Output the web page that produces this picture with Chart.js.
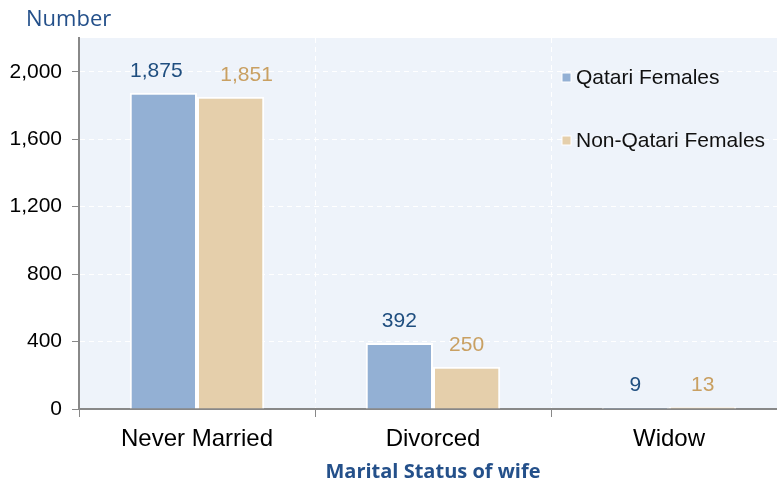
<!DOCTYPE html>
<html><head><meta charset="utf-8">
<script src="https://cdn.jsdelivr.net/npm/chart.js@4"></script>
<style>html,body{margin:0;padding:0;background:#fff;overflow:hidden}#wrap{width:777px;height:484px;overflow:hidden}canvas{display:block}</style>
</head><body><div id="wrap"><canvas id="c" width="787" height="484"></canvas></div>
<script>
const categories = ["Never Married", "Divorced", "Widow"];
const qatariFemales = [1875, 392, 9];
const nonQatariFemales = [1851, 250, 13];
const yTicks = [0, 400, 800, 1200, 1600, 2000];
const seriesNames = ["Qatari Females", "Non-Qatari Females"];
const barColors = ["#93B0D4", "#E5CFAB"];
const labelColors = ["#1F4E7F", "#C9A062"];
// small manual nudges of value labels (as in the original), [dataset][category] in px
const labelNudge = [[-7, 0, 0], [16, 0, 0]];

const bgPlugin = {
  id: 'bg',
  beforeDraw(chart) {
    const {ctx, chartArea: a} = chart;
    ctx.save();
    ctx.fillStyle = '#EEF3FA';
    ctx.fillRect(a.left, a.top, a.right - a.left, a.bottom - a.top);
    ctx.restore();
  }
};
const extrasPlugin = {
  id: 'extras',
  afterDatasetsDraw(chart) {
    const {ctx} = chart;
    ctx.save();
    ctx.font = '21px "Liberation Sans", Arial, sans-serif';
    ctx.textAlign = 'center';
    ctx.textBaseline = 'middle';
    chart.data.datasets.forEach((ds, i) => {
      const meta = chart.getDatasetMeta(i);
      meta.data.forEach((bar, j) => {
        ctx.fillStyle = labelColors[i];
        ctx.fillText(ds.data[j].toLocaleString('en-US'), bar.x + labelNudge[i][j], bar.y - 22);
      });
    });
    ctx.textAlign = 'left';
    const ly = [77, 140];
    seriesNames.forEach((n, i) => {
      ctx.fillStyle = barColors[i];
      ctx.fillRect(562, ly[i] - 4, 9, 9);
      ctx.strokeStyle = '#fff';
      ctx.lineWidth = 1;
      ctx.strokeRect(562, ly[i] - 4, 9, 9);
      ctx.fillStyle = '#111';
      ctx.fillText(n, 576, ly[i] + 1);
    });
    ctx.font = '22px "Open Sans", "Liberation Sans", sans-serif';
    ctx.fillStyle = '#24508A';
    ctx.fillText('Number', 26, 20);
    ctx.restore();
  }
};

new Chart(document.getElementById('c'), {
  type: 'bar',
  data: {
    labels: categories,
    datasets: [
      {label: seriesNames[0], data: qatariFemales, backgroundColor: barColors[0], borderColor: '#fff', borderWidth: 2, borderSkipped: 'bottom'},
      {label: seriesNames[1], data: nonQatariFemales, backgroundColor: barColors[1], borderColor: '#fff', borderWidth: 2, borderSkipped: 'bottom'}
    ]
  },
  options: {
    responsive: false,
    animation: false,
    devicePixelRatio: 1,
    layout: {padding: {top: 38, right: 0, left: 0, bottom: 0}},
    datasets: {bar: {categoryPercentage: 0.57, barPercentage: 1}},
    plugins: {legend: {display: false}, tooltip: {enabled: false}},
    scales: {
      x: {
        grid: {display: true, offset: true, color: '#ffffff', lineWidth: 1, drawTicks: true, tickLength: 8, tickColor: '#888', tickBorderDash: []},
        border: {display: true, color: '#888', width: 2, dash: [5, 4]},
        ticks: {color: '#000', font: {family: '"Liberation Sans", Arial, sans-serif', size: 24}, padding: 8},
        title: {display: true, text: 'Marital Status of wife', color: '#24508A', font: {family: '"Open Sans", sans-serif', size: 20, weight: 'bold'}, padding: {top: 0, bottom: 0}},
        afterFit(s) { s.height = 75; }
      },
      y: {
        min: 0, max: 2200,
        afterBuildTicks(s) { s.ticks = yTicks.map(v => ({value: v})); },
        grid: {color: '#ffffff', lineWidth: 1, drawTicks: true, tickLength: 7, tickColor: '#888', tickBorderDash: []},
        border: {display: true, color: '#888', width: 2, dash: [5, 4]},
        ticks: {color: '#000', font: {family: '"Liberation Sans", Arial, sans-serif', size: 21}, padding: 10,
          callback: v => Number(v).toLocaleString('en-US')},
        afterFit(s) { s.width = 79; }
      }
    }
  },
  plugins: [bgPlugin, extrasPlugin]
});
</script>
</body></html>
